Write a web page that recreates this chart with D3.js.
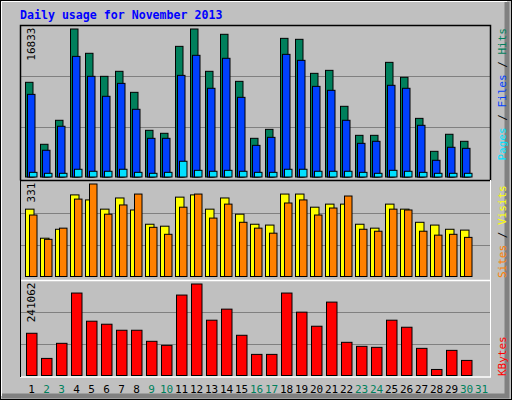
<!DOCTYPE html>
<html><head><meta charset="utf-8">
<script src="https://cdn.jsdelivr.net/npm/d3@7"></script>
<style>body{margin:0;background:#fff}svg{display:block}text{font-family:"DejaVu Sans Mono",monospace}</style>
</head><body><svg id="c" width="512" height="400"></svg>
<script>
const days = d3.range(1,32);
const weekend = [2,3,9,10,16,17,23,24,30,31];
const hits  = [10770,3720,6450,16833,14070,11450,12020,9630,5310,4970,14860,16833,12020,16230,10880,4400,5420,15770,15660,11790,12130,8040,4740,4740,13040,11340,6670,2920,4860,4060,0];
const files = [9400,3040,5770,13720,11450,9180,10650,7700,4400,4400,11560,13840,10090,13500,9060,3600,4510,13950,13270,10310,9860,6450,3830,4060,10430,10090,5880,1900,3380,3260,0];
const pages = [530,420,420,880,650,650,880,530,420,530,1790,760,650,760,650,530,530,880,880,650,650,650,530,420,760,650,530,420,420,420,0];
const sites = [241,137,169,292,274,241,281,238,187,180,284,292,241,281,223,187,184,295,295,248,259,259,187,173,259,241,194,184,169,166,0];
const visits= [220,133,173,277,331,223,256,295,176,151,248,295,209,259,194,173,155,263,274,220,245,288,169,162,241,238,162,148,151,140,0];
const kbytes= [111260,45030,84770,217220,143050,135100,119210,119210,90070,79470,211920,241062,145700,174830,105960,55630,55630,217220,166890,129800,193380,87420,76820,74170,145700,127150,71520,15890,66230,39740,0];
const maxLabels = ["16833","331","241062"];

const svg = d3.select("#c");
svg.append("rect").attr("x",0.5).attr("y",0.5).attr("width",511).attr("height",399).attr("fill","#c0c0c0").attr("stroke","#000");
svg.append("path").attr("d","M507,2V396H2").attr("fill","none").attr("stroke","#808080").attr("stroke-width",5);
svg.append("path").attr("d","M1.5,396V1.5H507").attr("fill","none").attr("stroke","#fff").attr("stroke-width",1);

svg.append("text").attr("x",20).attr("y",19).attr("fill","#0000ff").attr("font-weight","bold").attr("font-size","11.6px").text("Daily usage for November 2013");

const x = d3.scaleBand().domain(days).range([22.5,487.5]).paddingInner(0).paddingOuter(0);
const panels = [
  {top:25.5,bot:180.5,base:177,max:16833,series:[[hits,"#00805c",0,7.5],[files,"#0040ff",2,7.5],[pages,"#00e0ff",4,7.5]]},
  {top:180.5,bot:280.5,base:276.5,max:331,series:[[sites,"#ffff00",0,8.5],[visits,"#ff8000",4,7.5]]},
  {top:280.5,bot:376.5,base:375.5,max:241062,series:[[kbytes,"#ff0000",1,10.5]]}
];
panels.forEach((p,i)=>{
  const h = p.base - p.top;
  const y = d3.scaleLinear().domain([0,p.max]).range([p.base, p.top+ (i==0?3.5:i==1?3.5:3.5)]);
  const gs = [p.base - h/3, p.base - 2*h/3].map(v=>Math.round(v)+0.5);
  gs.forEach(g=>svg.append("line").attr("x1",20).attr("x2",490).attr("y1",g).attr("y2",g).attr("stroke","#808080"));
  p.series.forEach(([vals,col,off,w])=>{
    svg.append("g").selectAll("rect").data(days.filter((d,j)=>vals[j]>0)).join("rect")
      .attr("x",d=>x(d)+3+off).attr("width",w)
      .attr("y",d=>y(vals[d-1])).attr("height",d=>Math.max(1,p.base-y(vals[d-1])))
      .attr("fill",col).attr("stroke","#000").attr("stroke-width",1);
  });
  svg.append("text").attr("transform",`translate(35,${p.top+2}) rotate(-90)`).attr("text-anchor","end")
    .attr("font-size","11px").attr("fill","#000").text(maxLabels[i]);
});
// frames
svg.append("path").attr("d","M20.5,180.5V25.5H490.5V180.5").attr("fill","none").attr("stroke","#000").attr("stroke-width",1.5);
svg.append("line").attr("x1",20).attr("x2",491).attr("y1",180.5).attr("y2",180.5).attr("stroke","#000").attr("stroke-width",1.5);
svg.append("line").attr("x1",20).attr("x2",491).attr("y1",280.5).attr("y2",280.5).attr("stroke","#fff").attr("stroke-width",1.5);
svg.append("line").attr("x1",20).attr("x2",491).attr("y1",377).attr("y2",377).attr("stroke","#fff").attr("stroke-width",1.5);
svg.append("line").attr("x1",20.5).attr("x2",20.5).attr("y1",180).attr("y2",377).attr("stroke","#000");
svg.append("line").attr("x1",490.5).attr("x2",490.5).attr("y1",180).attr("y2",377).attr("stroke","#fff");

// x labels
svg.append("g").selectAll("text").data(days).join("text")
  .attr("x",d=>x(d)+x.bandwidth()/2+1.5).attr("y",393).attr("text-anchor","middle").attr("font-size","11px")
  .attr("fill",d=>weekend.includes(d)?"#00805c":"#000").text(d=>d);

// right legends
function legend(parts, yAnchor, anchor){
  const t = svg.append("text").attr("transform",`translate(506,${yAnchor}) rotate(-90)`).attr("text-anchor",anchor).attr("font-size","11px");
  parts.forEach(([s,c])=>t.append("tspan").attr("fill",c).text(s));
}
legend([["Pages","#00e0ff"],[" / ","#000"],["Files","#0040ff"],[" / ","#000"],["Hits","#00805c"]],28,"end");
legend([["Sites","#ff8000"],[" / ","#000"],["Visits","#ffff00"]],278,"start");
legend([["KBytes","#ff0000"]],376,"start");
</script></body></html>
